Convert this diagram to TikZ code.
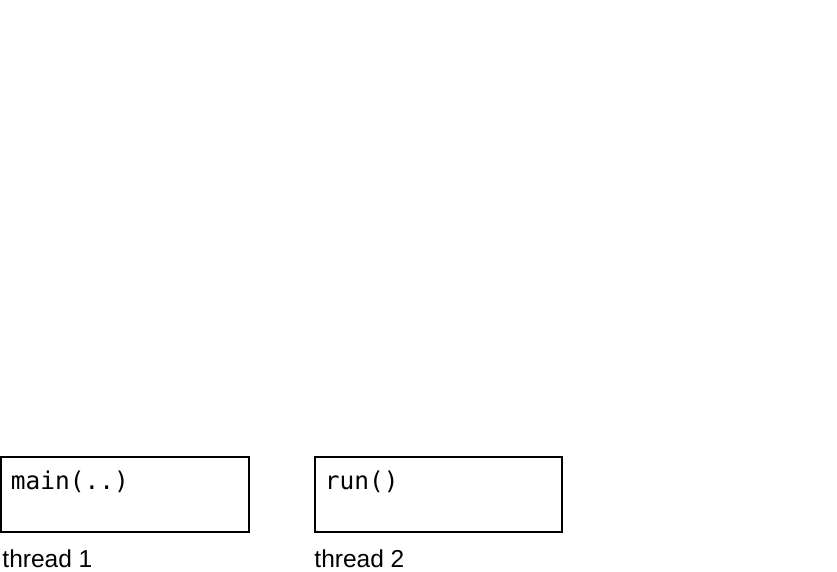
\documentclass[tikz,border=0pt]{standalone}
\usepackage{fontspec}
\newfontfamily\labelfont{Liberation Sans}
\newfontfamily\codefont{DejaVu Sans Mono}
\begin{document}
\begin{tikzpicture}[x=1pt,y=1pt]
        \tikzstyle{thread}=[rectangle,draw=black,line width=1.5pt,minimum width=248pt,minimum height=75pt,inner sep=0pt]
        \tikzstyle{code}=[anchor=base west,inner sep=0pt,font=\codefont\fontsize{24.5}{27}\selectfont]
        \tikzstyle{caption}=[anchor=base west,inner sep=0pt,font=\labelfont\fontsize{24.5}{28}\selectfont]
        \useasboundingbox (0,0) rectangle (837,572);
       \begin{scope}
         \node [thread] (t1) at (125,77.5) {};
         \node [thread,minimum width=247pt] (t2) at (438.5,77.5) {};
         \node [code] (c1) at ([xshift=10.5pt,yshift=-33pt]t1.north west) {main(..)};
         \node [code] (c2) at ([xshift=10.5pt,yshift=-33pt]t2.north west) {run()};
         \node [caption] (l1) at ([xshift=2pt,yshift=-35pt]t1.south west) {thread 1};
         \node [caption] (l2) at ([xshift=0pt,yshift=-35pt]t2.south west) {thread 2};
        \end{scope}
      \end{tikzpicture}
\end{document}
